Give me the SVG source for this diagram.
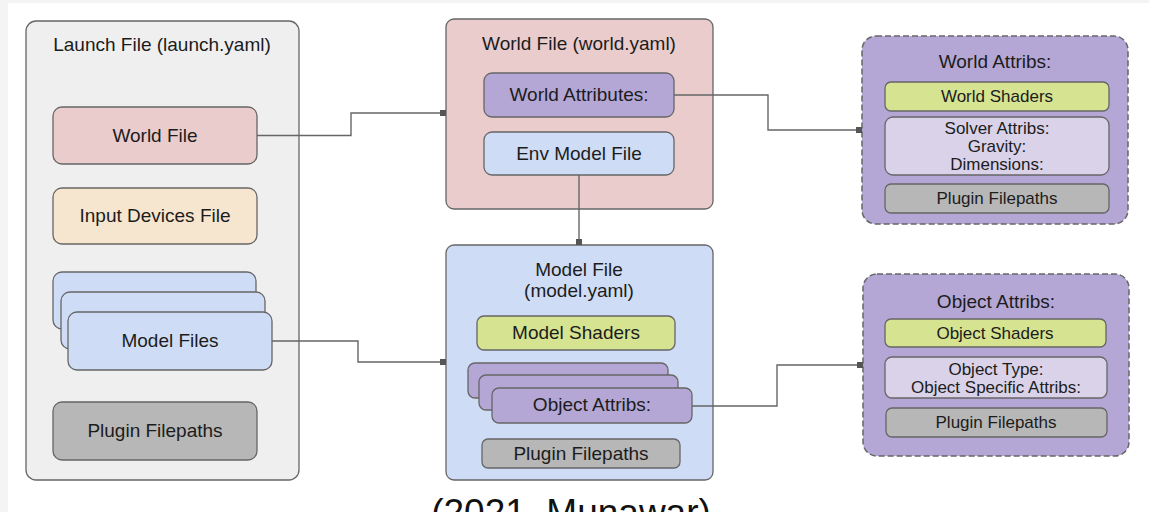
<svg xmlns="http://www.w3.org/2000/svg" width="1149" height="512" viewBox="0 0 1149 512">
<defs>
<style>
text{font-family:"Liberation Sans",Arial,sans-serif;fill:#1c1c1c;text-anchor:middle}
.t18{font-size:19px}
.t16{font-size:17px}
.b{stroke:#666;stroke-width:1.3}
.gray{fill:#efefef}
.pink{fill:#eacccd}
.purple{fill:#b4a7d6}
.blue{fill:#cfdcf6}
.beige{fill:#f6e5cf}
.dgray{fill:#b7b7b7}
.green{fill:#d6e391}
.lpurple{fill:#d9d2e9}
.dash{stroke:#666;stroke-width:1.5;stroke-dasharray:6 3}
.conn{fill:none;stroke:#666;stroke-width:1.4}
</style>
<marker id="sq" viewBox="0 0 6 6" refX="6" refY="3" markerWidth="6" markerHeight="6" markerUnits="userSpaceOnUse" orient="auto">
<rect x="0" y="0" width="6" height="6" fill="#555"/>
</marker>
</defs>
<rect x="0" y="0" width="1149" height="512" fill="#f4f4f4"/>
<rect x="8" y="3" width="1141" height="509" fill="#ffffff"/>

<g id="launch">
<rect class="b gray" x="26" y="21" width="273" height="459" rx="10"/>
<text class="t18" x="162" y="51">Launch File (launch.yaml)</text>
</g>
<g id="launch-world">
<rect class="b pink" x="53" y="107" width="204" height="57" rx="9"/>
<text class="t18" x="155" y="142">World File</text>
</g>
<g id="launch-input">
<rect class="b beige" x="53" y="188" width="204" height="56" rx="9"/>
<text class="t18" x="155" y="222">Input Devices File</text>
</g>
<g id="launch-models">
<rect class="b blue" x="53" y="272" width="203" height="57" rx="9"/>
<rect class="b blue" x="61" y="292" width="204" height="57" rx="9"/>
<rect class="b blue" x="68" y="312" width="204" height="58" rx="9"/>
<text class="t18" x="170" y="347">Model Files</text>
</g>
<g id="launch-plugin">
<rect class="b dgray" x="53" y="402" width="204" height="58" rx="9"/>
<text class="t18" x="155" y="437">Plugin Filepaths</text>
</g>

<g id="world">
<rect class="b pink" x="446" y="19" width="267" height="190" rx="8"/>
<text class="t18" x="579" y="50">World File (world.yaml)</text>
</g>
<g id="world-attributes">
<rect class="b purple" x="484" y="73" width="190" height="44" rx="8"/>
<text class="t18" x="579" y="101">World Attributes:</text>
</g>
<g id="world-env">
<rect class="b blue" x="484" y="132" width="190" height="43" rx="8"/>
<text class="t18" x="579" y="160">Env Model File</text>
</g>

<g id="model">
<rect class="b blue" x="446" y="245" width="267" height="235" rx="8"/>
<text class="t18" x="579" y="276">Model File</text>
<text class="t18" x="579" y="297">(model.yaml)</text>
</g>
<g id="model-shaders">
<rect class="b green" x="477" y="316" width="198" height="34" rx="7"/>
<text class="t18" x="576" y="339">Model Shaders</text>
</g>
<g id="model-objects">
<rect class="b purple" x="468" y="363" width="200" height="35" rx="7"/>
<rect class="b purple" x="479" y="375" width="199" height="35" rx="7"/>
<rect class="b purple" x="492" y="388" width="200" height="35" rx="7"/>
<text class="t18" x="592" y="411">Object Attribs:</text>
</g>
<g id="model-plugin">
<rect class="b dgray" x="482" y="439" width="198" height="29" rx="6"/>
<text class="t18" x="581" y="460">Plugin Filepaths</text>
</g>

<g id="world-attribs">
<rect class="dash purple" x="862" y="36" width="266" height="188" rx="14"/>
<text class="t18" x="995" y="68">World Attribs:</text>
<rect class="b green" x="885" y="82" width="224" height="29" rx="6"/>
<text class="t16" x="997" y="102">World Shaders</text>
<rect class="b lpurple" x="885" y="117" width="224" height="58" rx="8"/>
<text class="t16" x="997" y="134">Solver Attribs:</text>
<text class="t16" x="997" y="152">Gravity:</text>
<text class="t16" x="997" y="170">Dimensions:</text>
<rect class="b dgray" x="885" y="184" width="224" height="29" rx="6"/>
<text class="t16" x="997" y="204">Plugin Filepaths</text>
</g>

<g id="object-attribs">
<rect class="dash purple" x="863" y="274" width="266" height="182" rx="14"/>
<text class="t18" x="996" y="308">Object Attribs:</text>
<rect class="b green" x="885" y="319" width="221" height="28" rx="6"/>
<text class="t16" x="995" y="339">Object Shaders</text>
<rect class="b lpurple" x="885" y="357" width="222" height="41" rx="7"/>
<text class="t16" x="996" y="375">Object Type:</text>
<text class="t16" x="996" y="393">Object Specific Attribs:</text>
<rect class="b dgray" x="886" y="408" width="221" height="29" rx="6"/>
<text class="t16" x="996" y="428">Plugin Filepaths</text>
</g>

<g id="connectors">
<path class="conn" d="M257,135.5 H351 V113 H446" marker-end="url(#sq)"/>
<path class="conn" d="M272,341 H358 V362 H446" marker-end="url(#sq)"/>
<path class="conn" d="M579,175 V245" marker-end="url(#sq)"/>
<path class="conn" d="M674,95 H768 V130 H862" marker-end="url(#sq)"/>
<path class="conn" d="M692,406 H777 V365 H863" marker-end="url(#sq)"/>
</g>

<text x="571" y="525" style="font-size:37px;fill:#111">(2021, Munawar)</text>
</svg>
